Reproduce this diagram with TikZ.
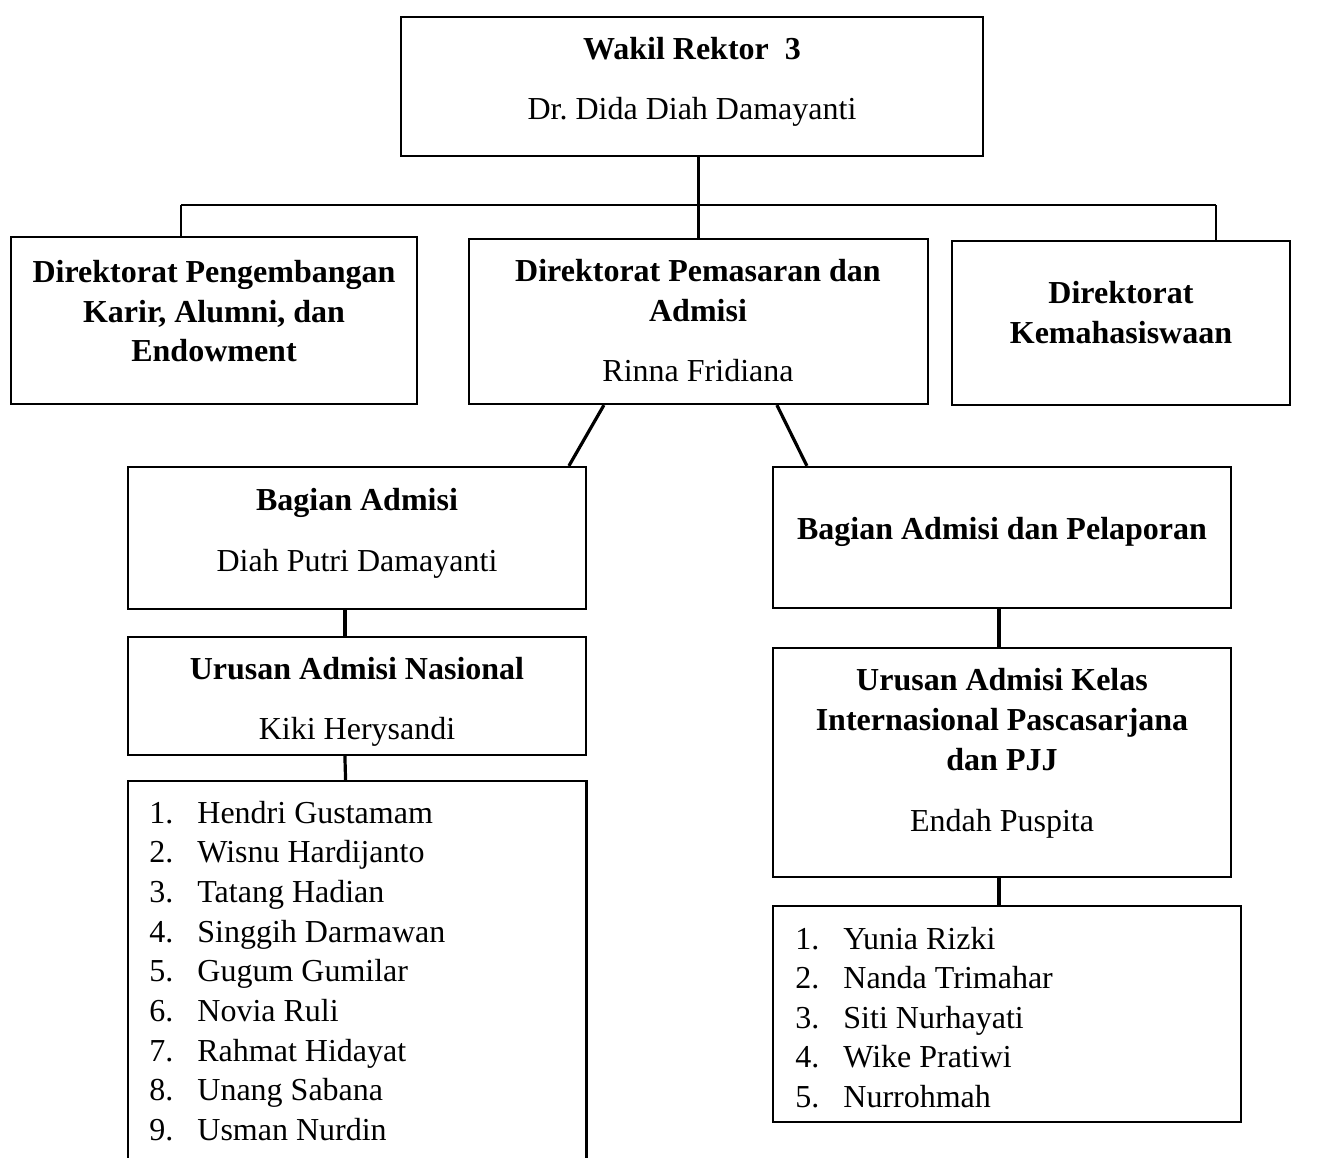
\documentclass[tikz,border=0pt]{standalone}
\usepackage{fontspec}
\setmainfont{Liberation Serif}
\usetikzlibrary{fit,calc}
\frenchspacing
\begin{document}
\begin{tikzpicture}[x=0.5pt,y=-0.5pt,
  box/.style={draw=black,line width=1.1pt,inner sep=0pt},
  frame/.style={inner sep=0pt},
  conn/.style={draw=black,line width=1.1pt},
  thick conn/.style={draw=black,line width=1.6pt},
  t/.style={anchor=base,inner sep=0pt,font=\fontsize{16}{20}\selectfont},
  tb/.style={anchor=base,inner sep=0pt,font=\fontsize{16}{20}\selectfont\bfseries},
  li/.style={anchor=base west,inner sep=0pt,font=\fontsize{16}{20}\selectfont}]
\useasboundingbox (0,0) rectangle (1320,1157);
% boxes
\node[box,fit={(401,17) (983,156)}] (top) {};
\node[box,fit={(11,237) (417,404)}] (dirK) {};
\node[box,fit={(469,239) (928,404)}] (dirP) {};
\node[box,fit={(952,241) (1290,405)}] (dirM) {};
\node[box,fit={(128,467) (586,609)}] (bagA) {};
\node[box,fit={(128,637) (586,755)}] (urN) {};
\node[frame,fit={(128,781) (586,1162)}] (listL) {};
\node[box,fit={(773,467) (1231,608)}] (bagP) {};
\node[box,fit={(773,648) (1231,877)}] (urK) {};
\node[box,fit={(773,906) (1241,1122)}] (listR) {};
\draw[box] (listL.south west) -- (listL.north west) -- (listL.north east) -- (listL.south east);
% connectors
\coordinate (busL) at (181,205);
\coordinate (busR) at (1216,205);
\draw[conn] (top.south -| dirP.north) -- (dirP.north);
\draw[conn] (busL) -- (busR);
\draw[conn] (busL) -- (busL |- dirK.north);
\draw[conn] (busR) -- (busR |- dirM.north);
\draw[thick conn] ($(dirP.south west)+(136,0)$) -- ($(bagA.north west)+(442,0)$);
\draw[thick conn] ($(dirP.south west)+(309,0)$) -- ($(bagP.north west)+(35,0)$);
\draw[thick conn] ($(bagA.south west)+(218,0)$) -- ($(urN.north west)+(218,0)$);
\draw[thick conn] ($(urN.south west)+(218,0)$) -- ($(listL.north west)+(218,0)$);
\draw[thick conn] ($(bagP.south west)+(227,0)$) -- ($(urK.north west)+(227,0)$);
\draw[thick conn] ($(urK.south west)+(227,0)$) -- ($(listR.north west)+(227,0)$);
% texts
\node[tb] (t1) at (692,59) {Wakil Rektor\ \ 3};
\node[t] (t2) at (692,119) {Dr. Dida Diah Damayanti};
\node[tb] (t3) at (214,282) {Direktorat Pengembangan};
\node[tb] (t4) at (214,322) {Karir, Alumni, dan};
\node[tb] (t5) at (214,361) {Endowment};
\node[tb] (t6) at (698,281) {Direktorat Pemasaran dan};
\node[tb] (t7) at (698,321) {Admisi};
\node[t] (t8) at (698,381) {Rinna Fridiana};
\node[tb] (t9) at (1121,303) {Direktorat};
\node[tb] (t10) at (1121,343) {Kemahasiswaan};
\node[tb] (t11) at (357,510) {Bagian Admisi};
\node[t] (t12) at (357,571) {Diah Putri Damayanti};
\node[tb] (t13) at (357,679) {Urusan Admisi Nasional};
\node[t] (t14) at (357,739) {Kiki Herysandi};
\node[tb] (t15) at (1002,539) {Bagian Admisi dan Pelaporan};
\node[tb] (t16) at (1002,690) {Urusan Admisi Kelas};
\node[tb] (t17) at (1002,730) {Internasional Pascasarjana};
\node[tb] (t18) at (1002,770) {dan PJJ};
\node[t] (t19) at (1002,831) {Endah Puspita};
% left list
\foreach \n/\name [count=\i from 0] in {1/Hendri Gustamam,2/Wisnu Hardijanto,3/Tatang Hadian,4/Singgih Darmawan,5/Gugum Gumilar,6/Novia Ruli,7/Rahmat Hidayat,8/Unang Sabana,9/Usman Nurdin}{
  \node[li] (ln\n) at (149,{823+39.7*\i}) {\n.};
  \node[li] (lm\n) at (197,{823+39.7*\i}) {\name};
}
% right list
\foreach \n/\name [count=\i from 0] in {1/Yunia Rizki,2/Nanda Trimahar,3/Siti Nurhayati,4/Wike Pratiwi,5/Nurrohmah}{
  \node[li] (rn\n) at (795,{949+39.6*\i}) {\n.};
  \node[li] (rm\n) at (843,{949+39.6*\i}) {\name};
}
\end{tikzpicture}
\end{document}
